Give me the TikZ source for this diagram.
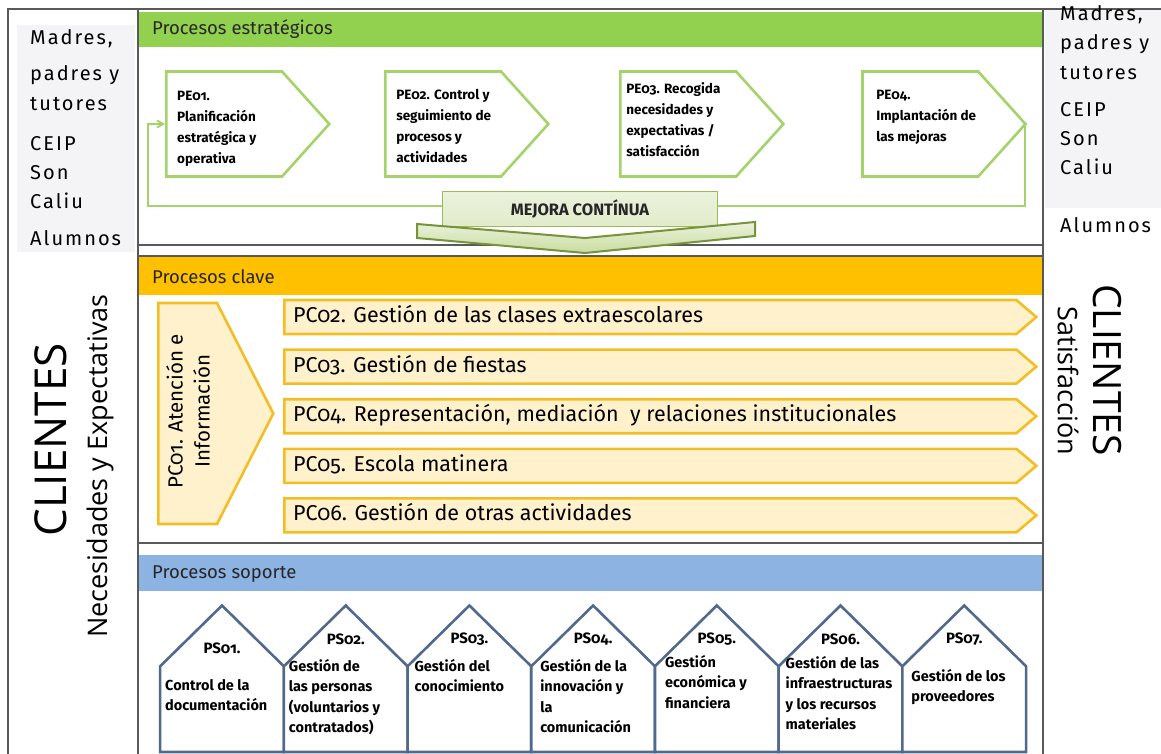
\documentclass[tikz,border=0pt]{standalone}
\usepackage{fontspec}
\setmainfont{Fira Sans}[Numbers=OldStyle]
\newfontfamily\sidefont{Fira Sans}[LetterSpace=10]
\newfontfamily\clientfont{Open Sans}
\usetikzlibrary{arrows,positioning,shapes.symbols}

\definecolor{hdgreen}{HTML}{92D050}
\definecolor{pegreen}{HTML}{A3D36A}
\definecolor{hdyellow}{HTML}{FFC000}
\definecolor{pcfill}{HTML}{FFF1CC}
\definecolor{pcline}{HTML}{F3BE25}
\definecolor{hdblue}{HTML}{8DB3E2}
\definecolor{psline}{HTML}{50698C}
\definecolor{framegray}{HTML}{595959}
\definecolor{sidegray}{HTML}{F4F4F7}
\definecolor{mejfill}{HTML}{EAF2DC}
\definecolor{mejline}{HTML}{9BBB59}
\definecolor{chevline}{HTML}{77933C}
\definecolor{chevfill}{HTML}{C9DCA0}
\definecolor{textdark}{HTML}{262626}

\begin{document}
\begin{tikzpicture}[x=1pt,y=-1pt,>=angle 60,
  frame line/.style={draw=framegray,line width=1.2pt},
  header text/.style={inner sep=0pt,anchor=west,text=textdark,font=\fontsize{18.5}{20}\selectfont},
  side text/.style={inner sep=0pt,anchor=base west,font=\sidefont\fontsize{20}{22}\selectfont},
  pe box/.style={signal,signal to=east,signal pointer angle=96,draw=pegreen,line width=2.6pt,
    fill=white,minimum width=163pt,minimum height=105pt,anchor=west},
  pe text/.style={inner sep=0pt,align=left,font=\fontsize{13.5}{21}\selectfont\bfseries},
  loop line/.style={draw=pegreen,line width=1.8pt},
  mejora box/.style={draw=mejline,line width=1pt,top color=mejfill,bottom color=chevfill!55,
    minimum width=275pt,minimum height=34pt,text=textdark,font=\fontsize{16.5}{18}\selectfont\bfseries},
  chevron/.style={draw=chevline,line width=2pt,top color=mejfill,bottom color=chevfill},
  pc box/.style={signal,signal to=east,signal pointer angle=81,draw=pcline,line width=2.6pt,
    fill=pcfill,minimum width=752pt,minimum height=34pt,anchor=west},
  pc text/.style={inner sep=0pt,anchor=west,text height=15pt,text depth=4pt,font=\fontsize{21.5}{24}\selectfont},
  ps box/.style={signal,signal to=north,signal pointer angle=91,draw=psline,line width=2.6pt,
    fill=white,minimum width=123.7pt,minimum height=89pt,outer sep=0pt},
  ps label/.style={inner sep=0pt,font=\fontsize{15}{20.5}\selectfont\bfseries},
  ps text/.style={inner sep=0pt,align=left,anchor=north west,font=\fontsize{14.5}{20.5}\selectfont\bfseries},
  client big/.style={inner sep=0pt,font=\clientfont\fontsize{44}{44}\selectfont},
  client small/.style={inner sep=0pt,font=\clientfont\fontsize{27}{30}\selectfont}]
\useasboundingbox (0,0) rectangle (1161,754);

% frame and side columns
\fill[sidegray] (17,25) rectangle (135,252);
\fill[sidegray] (1045,10) rectangle (1161,208);
\draw[frame line] (1161,9) -- (8,9) -- (8,754);
\draw[frame line] (138,9) -- (138,754);
\draw[frame line] (1043,9) -- (1043,754);
\draw[frame line] (138,245) -- (1043,245);
\draw[frame line] (138,256) -- (1043,256);
\draw[frame line] (138,543) -- (1043,543);

% headers
\fill[hdgreen] (139,12) rectangle (1042,47);
\fill[hdyellow] (139,257) rectangle (1042,295);
\fill[hdblue] (139,555) rectangle (1042,591);
\node[header text] (hdr1) at (152,29) {Procesos estratégicos};
\node[header text] (hdr2) at (152,277) {Procesos clave};
\node[header text] (hdr3) at (152,574) {Procesos soporte};

% clients, left
\node[side text] (l1) at (30,45) {Madres,};
\node[side text] (l2) at (30,81) {padres y};
\node[side text] (l3) at (30,111) {tutores};
\node[side text] (l4) at (30,151) {CEIP};
\node[side text] (l5) at (30,180) {Son};
\node[side text] (l6) at (30,208) {Caliu};
\node[side text] (l7) at (30,245) {Alumnos};
\node[client big,rotate=90] (cl) at (51,440) {CLIENTES};
\node[client small,rotate=90] (nec) at (100,466) {Necesidades y Expectativas};

% clients, right
\node[side text] (r1) at (1060,21) {Madres,};
\node[side text] (r2) at (1060,50) {padres y};
\node[side text] (r3) at (1060,80) {tutores};
\node[side text] (r4) at (1060,117) {CEIP};
\node[side text] (r5) at (1060,146) {Son};
\node[side text] (r6) at (1060,175) {Caliu};
\node[side text] (r7) at (1060,233) {Alumnos};
\node[client big,rotate=-90,font=\clientfont\fontsize{39}{39}\selectfont] (cr) at (1107,370) {CLIENTES};
\node[client small,rotate=-90] (sat) at (1068,381) {Satisfacción};

% strategic processes
\coordinate (loopR) at (1025,206);
\coordinate (loopL) at (148,206);
\node[pe box] (pe1) at (165,124) {};
\node[pe box,right=53pt of pe1] (pe2) {};
\node[pe box,right=69pt of pe2] (pe3) {};
\node[pe box,right=76pt of pe3] (pe4) {};
\draw[loop line,->] (pe4.east) -| (loopR) -- (loopL) |- (pe1.west);
\node[pe text,right=12pt of pe1.west,yshift=-5pt] (pe1t) {PE01.\\Planificación\\estratégica y\\operativa};
\node[pe text,right=12pt of pe2.west,yshift=-2pt] (pe2t) {PE02. Control y\\seguimiento de\\procesos y\\actividades};
\node[pe text,right=7pt of pe3.west,yshift=4pt] (pe3t) {PE03. Recogida\\necesidades y\\expectativas /\\satisfacción};
\node[pe text,right=15pt of pe4.west,yshift=7pt] (pe4t) {PE04.\\Implantación de\\las mejoras};
\node[mejora box] (mejora) at (580,209) {MEJORA CONTÍNUA};
\draw[chevron] (417,224) -- (585,238) -- (755,222) -- (755,236) -- (585,253) -- (417,238) -- cycle;

% key processes
\node[pc box,signal pointer angle=126,minimum width=115pt,minimum height=221pt] (pc1) at (157,413.5) {};
\node[inner sep=0pt,rotate=90,align=center,font=\fontsize{20.5}{27}\selectfont] (pc1t) at (188,411) {PC01. Atención e\\Información};
\node[pc box] (pc2) at (283,317) {};
\node[pc box,below=13pt of pc2] (pc3) {};
\node[pc box,below=13pt of pc3] (pc4) {};
\node[pc box,below=13pt of pc4] (pc5) {};
\node[pc box,below=13pt of pc5] (pc6) {};
\node[pc text,right=10pt of pc2.west] (pc2t) {PC02. Gestión de las clases extraescolares};
\node[pc text,right=10pt of pc3.west] (pc3t) {PC03. Gestión de fiestas};
\node[pc text,right=10pt of pc4.west] (pc4t) {PC04. Representación, mediación \ y relaciones institucionales};
\node[pc text,right=10pt of pc5.west] (pc5t) {PC05. Escola matinera};
\node[pc text,right=10pt of pc6.west] (pc6t) {PC06. Gestión de otras actividades};

% support processes
\node[ps box,anchor=south] (ps1) at (222,752) {};
\node[ps box,right=0pt of ps1] (ps2) {};
\node[ps box,right=0pt of ps2] (ps3) {};
\node[ps box,right=0pt of ps3] (ps4) {};
\node[ps box,right=0pt of ps4] (ps5) {};
\node[ps box,right=0pt of ps5] (ps6) {};
\node[ps box,right=0pt of ps6] (ps7) {};
\node[ps label] (ps1l) at ([yshift=104pt]ps1.south) {PS01.};
\node[ps label] (ps2l) at ([yshift=113pt]ps2.south) {PS02.};
\node[ps label] (ps3l) at ([yshift=113pt]ps3.south) {PS03.};
\node[ps label] (ps4l) at ([yshift=113pt]ps4.south) {PS04.};
\node[ps label] (ps5l) at ([yshift=113pt]ps5.south) {PS05.};
\node[ps label] (ps6l) at ([yshift=113pt]ps6.south) {PS06.};
\node[ps label] (ps7l) at ([yshift=113pt]ps7.south) {PS07.};
\node[ps text] (ps1b) at ([xshift=-57pt,yshift=73pt]ps1.south) {Control de la\\documentación};
\node[ps text] (ps2b) at ([xshift=-57pt,yshift=93pt]ps2.south) {Gestión de\\las personas\\(voluntarios y\\contratados)};
\node[ps text] (ps3b) at ([xshift=-55pt,yshift=93pt]ps3.south) {Gestión del\\conocimiento};
\node[ps text] (ps4b) at ([xshift=-53pt,yshift=93pt]ps4.south) {Gestión de la\\innovación y\\la\\comunicación};
\node[ps text] (ps5b) at ([xshift=-52pt,yshift=97pt]ps5.south) {Gestión\\económica y\\financiera};
\node[ps text] (ps6b) at ([xshift=-55pt,yshift=96pt]ps6.south) {Gestión de las\\infraestructuras\\y los recursos\\materiales};
\node[ps text] (ps7b) at ([xshift=-53pt,yshift=83pt]ps7.south) {Gestión de los\\proveedores};
\end{tikzpicture}
\end{document}
